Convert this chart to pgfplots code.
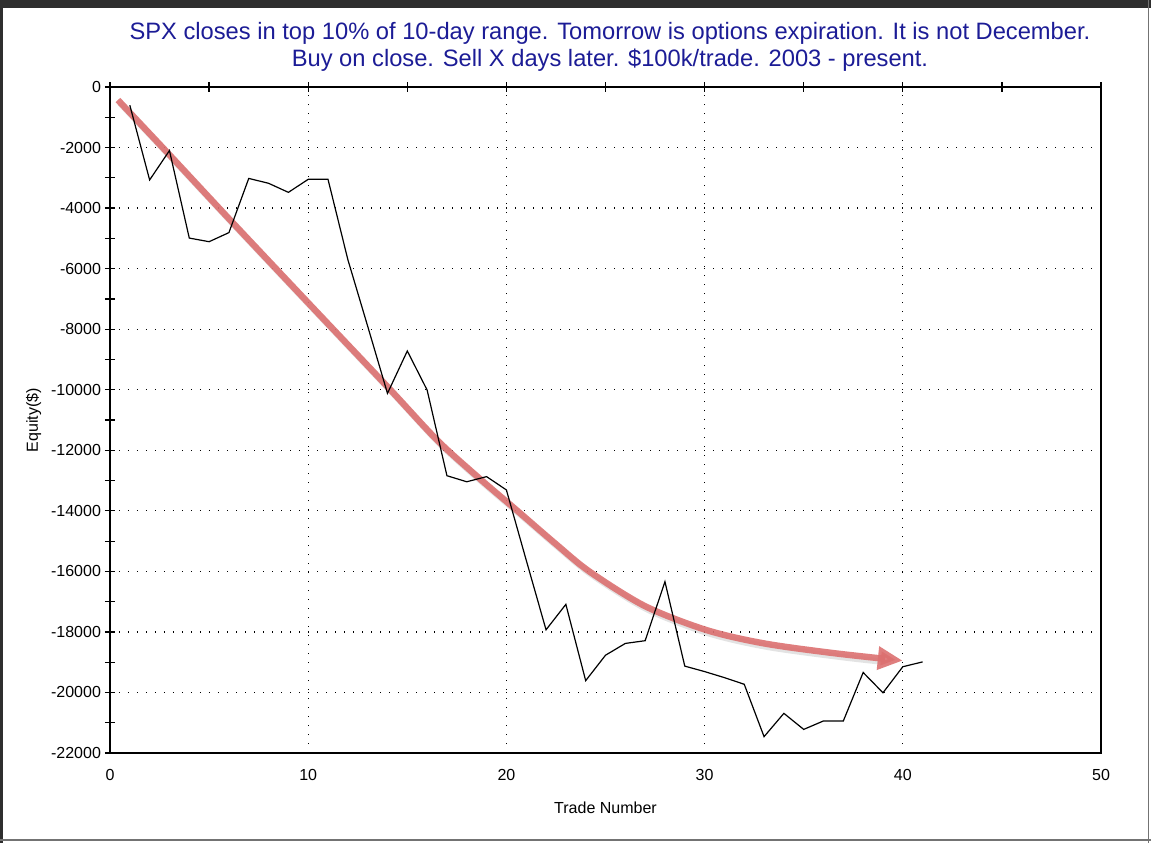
\documentclass[border=0pt]{standalone}
\usepackage{pgfplots}
\pgfplotsset{compat=1.18}
\usepackage{fontspec}
\setmainfont{Liberation Sans}
\usetikzlibrary{arrows.meta}
\definecolor{titleblue}{RGB}{28,28,150}
\definecolor{arrowred}{RGB}{220,112,112}
\begin{document}
\begin{tikzpicture}
\useasboundingbox (-55pt,-45pt) rectangle (520.5pt,376.5pt);
\fill[white] (-55pt,-45pt) rectangle (520.5pt,376.5pt);
\begin{axis}[
  at={(0,0)}, anchor=south west,
  scale only axis, width=495.5pt, height=333pt,
  xmin=0, xmax=50, ymin=-22000, ymax=0,
  xtick={0,10,...,50}, minor xtick={5,15,...,45},
  ytick={-22000,-20000,...,0}, minor ytick={-21000,-19000,...,-1000},
  xtick pos=upper, xticklabel pos=lower,
  ytick pos=left, yticklabel pos=left,
  tick align=center,
  major tick length=5pt, minor tick length=5pt,
  every tick/.style={black, line width=0.6pt},
  axis line style={line width=0.9pt},
  scaled y ticks=false,
  /pgf/number format/.cd, assume math mode=true, 1000 sep={},
  /pgfplots/.cd,
  ticklabel style={font=\fontsize{8}{9}\selectfont},
  xticklabel style={yshift=-2pt},
  yticklabel style={xshift=1.5pt},
  grid=major,
  major grid style={black, line width=0.6pt, dash pattern=on 0.6pt off 3.9pt},
  xlabel={Trade Number}, ylabel={Equity(\$)},
  label style={font=\fontsize{8}{9}\selectfont},
  xlabel style={at={(axis description cs:0.5,0)}, anchor=base, yshift=-30pt},
  ylabel style={at={(axis description cs:0,0.5)}, anchor=base, yshift=36pt},
  clip=false,
]
\addplot[gray, opacity=0.22, line width=3.2pt, smooth, xshift=1.2pt, yshift=-1.6pt] coordinates {
(0.4,-430) (3,-2240) (6,-4350) (10,-7130) (14,-9900) (16.5,-11660) (18.5,-12850) (20.5,-13970) (22.5,-15100) (24.2,-16010) (27,-17150) (30.1,-17940) (33,-18380) (36.5,-18700) (38.9,-18880)};
\addplot[arrowred, line width=3.2pt, smooth, opacity=0.9, -{Triangle[length=12.5pt,width=11pt]}] coordinates {
(0.4,-430) (3,-2240) (6,-4350) (10,-7130) (14,-9900) (16.5,-11660) (18.5,-12850) (20.5,-13970) (22.5,-15100) (24.2,-16010) (27,-17150) (30.1,-17940) (33,-18380) (36.5,-18700) (40,-18950)};
\addplot[black, line width=0.6pt] coordinates {
(1,-600) (2,-3070) (3,-2100) (4,-4990) (5,-5110) (6,-4810) (7,-3020) (8,-3180) (9,-3480) (10,-3050) (11,-3050) (12,-5700) (13,-7900) (14,-10120) (15,-8720) (16,-10010) (17,-12840) (18,-13040) (19,-12870) (20,-13310) (21,-15630) (22,-17930) (23,-17090) (24,-19610) (25,-18770) (26,-18380) (27,-18290) (28,-16340) (29,-19130) (30,-19310) (31,-19510) (32,-19730) (33,-21460) (34,-20690) (35,-21220) (36,-20940) (37,-20940) (38,-19340) (39,-20010) (40,-19150) (41,-18990)};
\end{axis}
\node[titleblue, font=\fontsize{11.85}{13.4}\selectfont, align=center, anchor=base] at (250pt,343.5pt) {SPX closes in top 10\% of 10-day range. Tomorrow is options expiration. It is not December.\\Buy on close. Sell X days later. \$100k/trade. 2003 - present.};
\fill[black!82] (-55pt,376.5pt) rectangle (520.5pt,372.5pt);
\fill[black!82] (-55pt,-45pt) rectangle (-53.5pt,376.5pt);
\draw[black!55, line width=0.8pt] (519.2pt,-45pt) -- (519.2pt,376.5pt);
\draw[black!55, line width=0.8pt] (-55pt,-43.4pt) -- (520.5pt,-43.4pt);
\end{tikzpicture}
\end{document}
